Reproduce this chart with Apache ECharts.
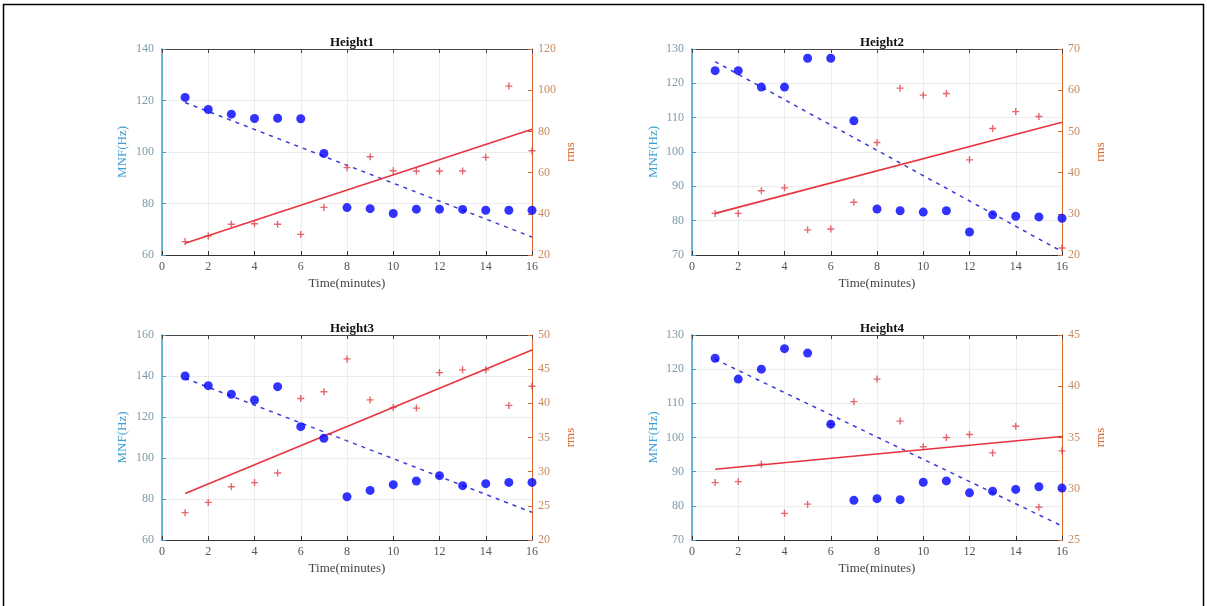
<!DOCTYPE html>
<html><head><meta charset="utf-8">
<script src="https://cdn.jsdelivr.net/npm/echarts@6/dist/echarts.min.js"></script>
<style>html,body{margin:0;padding:0;background:#fff}#c{width:1207px;height:606px}</style>
</head><body><div id="c"></div>
<script>
const minutes = [1,2,3,4,5,6,7,8,9,10,11,12,13,14,15,16];
const titles = ['Height1','Height2','Height3','Height4'];
const xTicks = {min:0, max:16, interval:2};

const mnf1 = [121.2,116.5,114.7,113.0,113.1,112.9,99.4,78.4,78.0,76.1,77.8,77.8,77.7,77.4,77.4,77.4];
const rms1 = [26.5,29.2,34.9,35.2,34.9,30.0,43.1,62.4,67.7,60.9,60.8,60.8,60.8,67.4,102.0,70.6];
const mnfFit1 = [119.2,67.0];
const rmsFit1 = [25.7,81.0];

const mnf2 = [123.7,123.7,118.9,118.9,127.3,127.3,109.1,83.4,82.9,82.5,82.9,76.7,81.7,81.3,81.1,80.7];
const rms2 = [30.1,30.1,35.6,36.3,26.1,26.3,32.8,47.3,60.5,58.8,59.2,43.1,50.7,54.8,53.6,21.7];
const mnfFit2 = [126.3,71.0];
const rmsFit2 = [30.1,52.2];

const mnf3 = [140.0,135.3,131.1,128.3,134.8,115.3,109.6,81.1,84.2,87.0,88.8,91.4,86.5,87.5,88.1,88.1];
const rms3 = [24.0,25.5,27.8,28.4,29.8,40.7,41.7,46.5,40.5,39.4,39.3,44.5,44.9,44.9,39.7,42.5];
const mnfFit3 = [138.9,73.5];
const rmsFit3 = [26.8,47.8];

const mnf4 = [123.2,117.1,120.0,126.0,124.7,103.9,81.6,82.1,81.8,86.9,87.3,83.8,84.3,84.8,85.6,85.2];
const rms4 = [30.6,30.7,32.4,27.6,28.5,36.3,38.5,40.7,36.6,34.1,35.0,35.3,33.5,36.1,28.2,33.7];
const mnfFit4 = [122.9,74.1];
const rmsFit4 = [31.9,35.1];

const leftAxes = [{min:60,max:140,interval:20},{min:70,max:130,interval:10},{min:60,max:160,interval:20},{min:70,max:130,interval:10}];
const rightAxes = [{min:20,max:120,interval:20},{min:20,max:70,interval:10},{min:20,max:50,interval:5},{min:25,max:45,interval:5}];

const panels = [
  {mnf:mnf1, rms:rms1, mf:mnfFit1, rf:rmsFit1},
  {mnf:mnf2, rms:rms2, mf:mnfFit2, rf:rmsFit2},
  {mnf:mnf3, rms:rms3, mf:mnfFit3, rf:rmsFit3},
  {mnf:mnf4, rms:rms4, mf:mnfFit4, rf:rmsFit4}
];

const FONT = 'Liberation Serif';
const LEFTC = '#3d9fd3', RIGHTC = '#d9662a';
const gridPos = [
  {left:162, top:49, width:370, height:206},
  {left:692, top:49, width:370, height:206},
  {left:162, top:335, width:370, height:205},
  {left:692, top:335, width:370, height:205}
];

const grid=[], xAxis=[], yAxis=[], series=[], title=[];
panels.forEach((p,i)=>{
  const g = gridPos[i];
  grid.push(Object.assign({containLabel:false}, g));
  title.push({text:titles[i], left:g.left+g.width/2, top:g.top-18, textAlign:'center',
    textStyle:{fontFamily:FONT, fontWeight:'bold', fontSize:13, color:'#111'}});
  xAxis.push({type:'value', gridIndex:i, min:xTicks.min, max:xTicks.max, interval:xTicks.interval,
    name:'Time(minutes)', nameLocation:'middle', nameGap:22,
    nameTextStyle:{fontFamily:FONT, fontSize:13, color:'#444'},
    axisLine:{onZero:false, lineStyle:{color:'#333', width:1}},
    axisTick:{inside:true, length:4, lineStyle:{color:'#333'}},
    axisLabel:{fontFamily:FONT, fontSize:12, color:'#555', margin:6},
    splitLine:{show:true, lineStyle:{color:'#ececec'}}});
  xAxis.push({type:'value', gridIndex:i, position:'top', min:xTicks.min, max:xTicks.max, interval:xTicks.interval,
    axisLine:{show:true, onZero:false, lineStyle:{color:'#444'}},
    axisTick:{inside:true, length:4, lineStyle:{color:'#444'}},
    axisLabel:{show:false}, splitLine:{show:false}});
  const la = leftAxes[i], ra = rightAxes[i];
  yAxis.push({type:'value', gridIndex:i, position:'left', min:la.min, max:la.max, interval:la.interval,
    name:'MNF(Hz)', nameLocation:'middle', nameGap:i%2===0?33:32, nameRotate:90,
    nameTextStyle:{fontFamily:FONT, fontSize:13, color:LEFTC},
    axisLine:{show:true, onZero:false, lineStyle:{color:LEFTC, width:1.5}},
    axisTick:{show:true, inside:true, length:4, lineStyle:{color:LEFTC}},
    axisLabel:{fontFamily:FONT, fontSize:12, color:'#7f9aa8', margin:8},
    splitLine:{show:true, lineStyle:{color:'#ececec'}}});
  yAxis.push({type:'value', gridIndex:i, position:'right', min:ra.min, max:ra.max, interval:ra.interval,
    name:'rms', nameLocation:'middle', nameGap:32, nameRotate:90,
    nameTextStyle:{fontFamily:FONT, fontSize:13, color:RIGHTC},
    axisLine:{show:true, onZero:false, lineStyle:{color:RIGHTC, width:1}},
    axisTick:{show:true, inside:true, length:4, lineStyle:{color:RIGHTC}},
    axisLabel:{fontFamily:FONT, fontSize:12, color:'#c98a5e', margin:6},
    splitLine:{show:false}});
  const xi = i*2, yl = i*2, yr = i*2+1;
  series.push({type:'line', xAxisIndex:xi, yAxisIndex:yl, data:[[minutes[0],p.mf[0]],[minutes[minutes.length-1],p.mf[1]]],
    symbol:'none', lineStyle:{color:'#3b3bd6', width:1.5, type:[4,5]}, z:2, silent:true});
  series.push({type:'line', xAxisIndex:xi, yAxisIndex:yr, data:[[minutes[0],p.rf[0]],[minutes[minutes.length-1],p.rf[1]]],
    symbol:'none', lineStyle:{color:'#e8343e', width:1.6}, z:2, silent:true});
  series.push({type:'scatter', xAxisIndex:xi, yAxisIndex:yr, data:minutes.map((m,k)=>[m,p.rms[k]]),
    symbol:'path://M4,0H6V4H10V6H6V10H4V6H0V4H4Z', symbolSize:7,
    itemStyle:{color:'#e0404a'}, z:3});
  series.push({type:'scatter', xAxisIndex:xi, yAxisIndex:yl, data:minutes.map((m,k)=>[m,p.mnf[k]]),
    symbol:'circle', symbolSize:9, itemStyle:{color:'#0000ff'}, z:4});
});

const chart = echarts.init(document.getElementById('c'), null, {renderer:'canvas'});
chart.setOption({
  backgroundColor:'#fff',
  animation:false,
  title, grid, xAxis, yAxis, series,
  graphic:[{type:'rect', shape:{x:3.5, y:4.5, width:1200, height:640}, style:{fill:'none', stroke:'#000', lineWidth:1.5}, silent:true}]
});
</script></body></html>
